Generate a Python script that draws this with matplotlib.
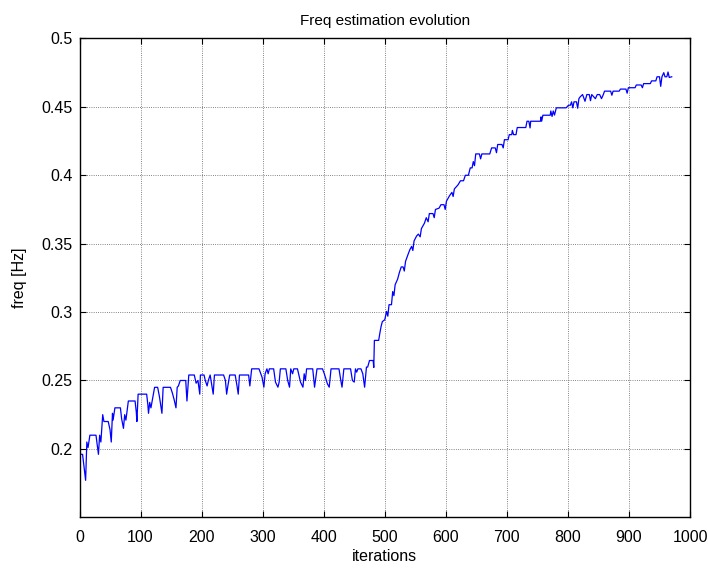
"""Freq estimation evolution plot (MATLAB-style)."""

import matplotlib
matplotlib.use("Agg")
import matplotlib.pyplot as plt
import numpy as np

# settling phase, 0-282
iters_a = [0, 5, 10, 12, 14, 17, 27, 29, 31, 33,
           35, 38, 40, 47, 50, 52, 54, 55, 58, 67,
           69, 72, 74, 76, 78, 80, 91, 93, 94, 96,
           110, 112, 113, 115, 117, 123, 128, 131, 135, 137,
           149, 152, 155, 158, 160, 162, 165, 174, 176, 179,
           188, 191, 194, 197, 198, 204, 206, 209, 211, 214,
           219, 221, 236, 239, 241, 243, 246, 255, 258, 260,
           262, 277, 279, 282]
freq_a = [0.196, 0.196, 0.177, 0.205, 0.201, 0.210, 0.210, 0.203, 0.196, 0.210,
          0.205, 0.225, 0.220, 0.220, 0.214, 0.205, 0.226, 0.221, 0.230, 0.230,
          0.222, 0.215, 0.225, 0.221, 0.228, 0.235, 0.235, 0.227, 0.220, 0.240,
          0.240, 0.232, 0.226, 0.234, 0.230, 0.245, 0.245, 0.238, 0.226, 0.245,
          0.245, 0.241, 0.236, 0.230, 0.245, 0.246, 0.250, 0.250, 0.235, 0.254,
          0.254, 0.248, 0.250, 0.240, 0.254, 0.254, 0.250, 0.246, 0.250, 0.254,
          0.240, 0.254, 0.254, 0.250, 0.240, 0.246, 0.254, 0.254, 0.246, 0.240,
          0.254, 0.254, 0.246, 0.2585]

# plateau, 294-496
iters_b = [294, 297, 299, 302, 304, 307, 309, 311, 318, 321,
           325, 327, 329, 338, 341, 344, 346, 349, 351, 357,
           362, 366, 368, 370, 372, 382, 385, 389, 398, 401,
           406, 409, 412, 425, 428, 430, 433, 444, 447, 450,
           452, 454, 456, 461, 464, 467, 470, 472, 475, 481,
           482, 483, 490, 492, 494, 496]
freq_b = [0.2585, 0.2549, 0.2524, 0.2451, 0.2549, 0.2585, 0.2549, 0.2585, 0.2585, 0.2488,
          0.2451, 0.2488, 0.2585, 0.2585, 0.2500, 0.2451, 0.2585, 0.2549, 0.2585, 0.2585,
          0.2488, 0.2451, 0.2549, 0.2500, 0.2585, 0.2585, 0.2451, 0.2585, 0.2585, 0.2549,
          0.2476, 0.2451, 0.2585, 0.2585, 0.2500, 0.2451, 0.2585, 0.2585, 0.2500, 0.2488,
          0.2585, 0.2561, 0.2585, 0.2585, 0.2549, 0.2451, 0.2598, 0.2598, 0.2646, 0.2646,
          0.2595, 0.2793, 0.2793, 0.2847, 0.2895, 0.2930]

# rise, 500-704
iters_c = [500, 503, 505, 507, 511, 513, 515, 517, 521, 524,
           527, 530, 532, 534, 538, 541, 544, 546, 548, 552,
           555, 558, 560, 565, 568, 571, 573, 579, 581, 583,
           589, 592, 597, 599, 601, 606, 610, 612, 614, 620,
           624, 629, 632, 637, 640, 643, 645, 647, 649, 655,
           657, 659, 672, 675, 681, 683, 685, 692, 694, 696,
           702, 704]
freq_c = [0.2944, 0.3005, 0.2970, 0.3054, 0.3054, 0.3150, 0.3120, 0.3200, 0.3240, 0.3290,
          0.3330, 0.3330, 0.3300, 0.3370, 0.3420, 0.3455, 0.3480, 0.3450, 0.3520, 0.3555,
          0.3570, 0.3550, 0.3610, 0.3650, 0.3690, 0.3660, 0.3720, 0.3720, 0.3690, 0.3750,
          0.3760, 0.3785, 0.3785, 0.3750, 0.3810, 0.3850, 0.3875, 0.3845, 0.3900, 0.3930,
          0.3960, 0.3960, 0.4000, 0.4000, 0.4054, 0.4054, 0.4100, 0.4070, 0.4156, 0.4156,
          0.4120, 0.4156, 0.4156, 0.4200, 0.4200, 0.4165, 0.4225, 0.4225, 0.4200, 0.4260,
          0.4260, 0.4297]

# slow convergence, 706-970
iters_d = [706, 708, 709, 711, 715, 717, 731, 733, 736, 738,
           739, 755, 756, 757, 759, 771, 772, 774, 776, 778,
           781, 797, 801, 804, 806, 808, 810, 814, 816, 818,
           820, 824, 828, 831, 835, 837, 839, 845, 848, 852,
           855, 858, 860, 870, 872, 874, 884, 886, 895, 897,
           899, 910, 912, 920, 922, 924, 935, 937, 944, 946,
           950, 952, 954, 957, 959, 962, 964, 966, 970]
freq_d = [0.4297, 0.4297, 0.4328, 0.4297, 0.4297, 0.4349, 0.4349, 0.4395, 0.4395, 0.4346,
          0.4395, 0.4395, 0.4427, 0.4395, 0.4439, 0.4439, 0.4470, 0.4430, 0.4470, 0.4440,
          0.4493, 0.4493, 0.4512, 0.4512, 0.4537, 0.4493, 0.4537, 0.4537, 0.4490, 0.4560,
          0.4573, 0.4590, 0.4541, 0.4590, 0.4590, 0.4545, 0.4590, 0.4560, 0.4590, 0.4590,
          0.4560, 0.4590, 0.4615, 0.4615, 0.4585, 0.4615, 0.4615, 0.4630, 0.4630, 0.4600,
          0.4640, 0.4640, 0.4660, 0.4660, 0.4640, 0.4670, 0.4670, 0.4690, 0.4690, 0.4720,
          0.4720, 0.4650, 0.4720, 0.4750, 0.4720, 0.4720, 0.4755, 0.4715, 0.4720]

x_ticks = [0, 100, 200, 300, 400, 500, 600, 700, 800, 900, 1000]
y_ticks = [0.2, 0.25, 0.3, 0.35, 0.4, 0.45, 0.5]


def main():
    plt.rcParams["font.family"] = ["Liberation Sans", "DejaVu Sans"]
    plt.rcParams["font.size"] = 11.5

    it = np.concatenate([iters_a, iters_b, iters_c, iters_d])
    fr = np.concatenate([freq_a, freq_b, freq_c, freq_d])

    fig = plt.figure(figsize=(7.08, 5.70), dpi=100)
    ax = fig.add_axes([0.1123, 0.0925, 0.8623, 0.840])
    ax.plot(it, fr, color="#0000ff", lw=0.9)

    ax.set_xlim(0, 1000)
    ax.set_ylim(0.15, 0.5)
    ax.set_xticks(x_ticks)
    ax.set_yticks(y_ticks)
    ax.set_yticklabels([f"{v:g}" for v in y_ticks])
    ax.tick_params(direction="in", top=True, right=True, length=4, width=0.8)
    ax.tick_params(axis="x", pad=9)
    ax.tick_params(axis="y", pad=5)
    ax.grid(True, color="#333333", linestyle=":", linewidth=0.6, alpha=0.8)
    for s in ax.spines.values():
        s.set_linewidth(1.0)

    ax.set_title("Freq estimation evolution", fontsize=11, pad=10)
    ax.set_xlabel("iterations", labelpad=3)
    ax.set_ylabel("freq [Hz]", labelpad=10)

    fig.savefig("out.png", dpi=100)
    plt.close(fig)


if __name__ == "__main__":
    main()
